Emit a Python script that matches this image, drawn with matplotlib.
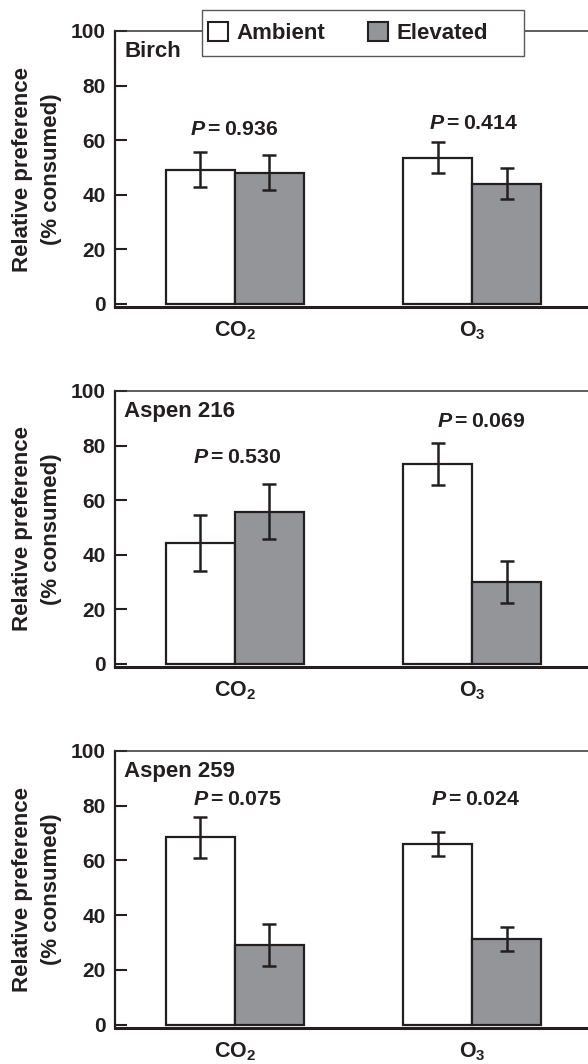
import matplotlib
matplotlib.use("Agg")
import matplotlib.pyplot as plt
from matplotlib.patches import Patch, Rectangle

plt.rcParams['font.family'] = ['Liberation Sans', 'DejaVu Sans']
plt.rcParams['font.weight'] = 'bold'
plt.rcParams['mathtext.fontset'] = 'custom'
plt.rcParams['mathtext.rm'] = 'Liberation Sans:bold'
plt.rcParams['mathtext.it'] = 'Liberation Sans:italic:bold'
plt.rcParams['mathtext.bf'] = 'Liberation Sans:bold'

# ---- data ----
panels = ['Birch', 'Aspen 216', 'Aspen 259']
categories = [r'CO$_2$', r'O$_3$']
series = ['Ambient', 'Elevated']
ambient_mean = [[49.2, 53.6], [44.3, 73.3], [68.4, 66.0]]
ambient_se = [[6.4, 5.6], [10.2, 7.7], [7.6, 4.4]]
elevated_mean = [[48.1, 44.0], [55.8, 30.0], [29.2, 31.4]]
elevated_se = [[6.5, 5.7], [10.2, 7.8], [7.7, 4.4]]
p_labels = [['0.936', '0.414'], ['0.530', '0.069'], ['0.075', '0.024']]
p_label_y = [[61.9, 64.0], [73.6, 86.7], [80.2, 80.2]]
p_label_x = [[0.0, 1.008], [0.01, 1.037], [0.01, 1.016]]
yticks = [0, 20, 40, 60, 80, 100]

INK = '#231f20'
GRAY = '#939598'

W, H = 588, 1064
fig = plt.figure(figsize=(W / 100, H / 100), dpi=100)

tops = [31, 391, 751]
bots = [307, 667, 1028]
left_px = 115
bw = 0.29

for i in range(3):
    ax = fig.add_axes([left_px / W, 1 - bots[i] / H, (W - left_px) / W, (bots[i] - tops[i]) / H])
    x = [0, 1]
    xa = [v - bw / 2 for v in x]
    xe = [v + bw / 2 for v in x]
    ax.bar(xa, ambient_mean[i], bw, color='white', edgecolor=INK, linewidth=1.6, zorder=2)
    ax.bar(xe, elevated_mean[i], bw, color=GRAY, edgecolor=INK, linewidth=1.6, zorder=2)
    ax.errorbar(xa, ambient_mean[i], yerr=ambient_se[i], fmt='none', ecolor=INK,
                elinewidth=1.8, capsize=4.8, capthick=1.8, zorder=3)
    ax.errorbar(xe, elevated_mean[i], yerr=elevated_se[i], fmt='none', ecolor=INK,
                elinewidth=1.8, capsize=4.8, capthick=1.8, zorder=3)
    ax.set_xlim(-0.504, 1.488)
    ax.set_ylim(-1.2, 100)
    ax.set_yticks(yticks)
    ax.set_yticklabels([str(t) for t in yticks])
    ax.set_xticks(x)
    ax.set_xticklabels(categories)
    ax.tick_params(axis='y', direction='in', length=8.4, width=1.5, pad=6.5,
                   labelsize=15, colors=INK)
    ax.tick_params(axis='x', length=0, pad=9, labelsize=15.5, colors=INK)
    for lab in ax.get_xticklabels() + ax.get_yticklabels():
        lab.set_fontweight('bold')
    ax.spines['right'].set_visible(False)
    ax.spines['top'].set_linewidth(1.1)
    ax.spines['top'].set_color('#333133')
    ax.spines['left'].set_linewidth(1.6)
    ax.spines['left'].set_color(INK)
    ax.spines['bottom'].set_linewidth(2.2)
    ax.spines['bottom'].set_color(INK)
    ax.set_ylabel('Relative preference\n(% consumed)', fontsize=16, fontweight='bold',
                  color=INK, linespacing=1.5)
    ax.yaxis.set_label_coords(-0.112, 0.5)
    ax.text(0.0197, 1 - 26 / (bots[i] - tops[i]), panels[i], transform=ax.transAxes,
            fontsize=16, fontweight='bold', color=INK, ha='left', va='baseline')
    for j in range(2):
        ax.text(p_label_x[i][j], p_label_y[i][j], r'$\mathit{P}=$' + p_labels[i][j],
                fontsize=15.3, fontweight='bold', color=INK, ha='center', va='baseline')

# legend box and entries
fig.add_artist(Rectangle((202 / W, 1 - 56 / H), (524 - 202) / W, 46 / H,
                         transform=fig.transFigure, facecolor='white',
                         edgecolor='#58595b', linewidth=1.0, zorder=3))
handles = [Patch(facecolor='white', edgecolor=INK, linewidth=1.5),
           Patch(facecolor=GRAY, edgecolor=INK, linewidth=1.5)]
leg = fig.legend(handles, series, ncol=2, frameon=False, loc='center left',
                 bbox_to_anchor=(207.7 / W, 1 - 33 / H), borderpad=0, borderaxespad=0,
                 handlelength=0.9, handleheight=0.92, handletextpad=0.38,
                 columnspacing=1.92, prop={'size': 16, 'weight': 'bold'})
for t in leg.get_texts():
    t.set_color(INK)
leg.set_zorder(5)

fig.savefig('out.png', dpi=100)
